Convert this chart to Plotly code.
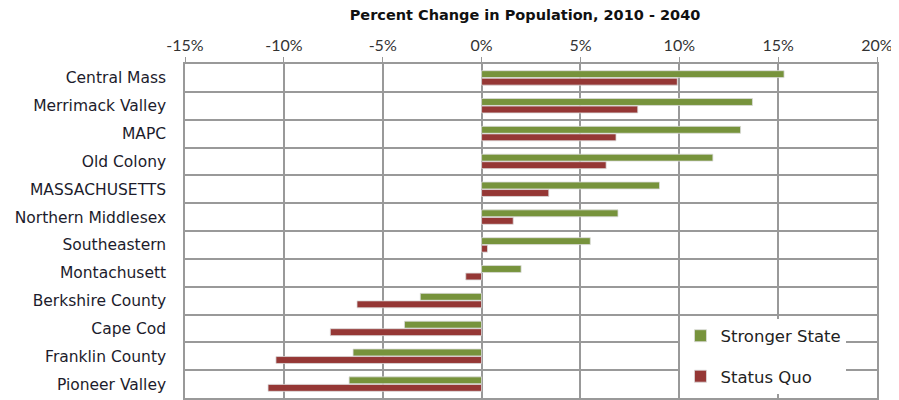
import plotly.graph_objects as go

regions = ["Central Mass", "Merrimack Valley", "MAPC", "Old Colony", "MASSACHUSETTS",
           "Northern Middlesex", "Southeastern", "Montachusett", "Berkshire County",
           "Cape Cod", "Franklin County", "Pioneer Valley"]
stronger_state = [15.3, 13.7, 13.1, 11.7, 9.0, 6.9, 5.5, 2.0, -3.1, -3.9, -6.5, -6.7]
status_quo = [9.9, 7.9, 6.8, 6.3, 3.4, 1.6, 0.3, -0.8, -6.3, -7.65, -10.4, -10.8]
x_ticks = [-15, -10, -5, 0, 5, 10, 15, 20]
x_tick_labels = ["-15%", "-10%", "-5%", "0%", "5%", "10%", "15%", "20%"]

pos = list(range(len(regions)))
FONT = "'DejaVu Sans', 'Noto Sans', sans-serif"
TICKFONT = "Lato, 'Noto Sans', sans-serif"

fig = go.Figure()
fig.add_trace(go.Bar(y=pos, x=[v / 100 for v in stronger_state], orientation="h",
                     name="Stronger State", marker=dict(color="#77933C", line=dict(color="#dcdcdc", width=0.8)),
                     legendgroup="a"))
fig.add_trace(go.Bar(y=pos, x=[v / 100 for v in status_quo], orientation="h",
                     name="Status Quo", marker=dict(color="#953735", line=dict(color="#dcdcdc", width=0.8)),
                     legendgroup="b"))

# page body has an 8px default margin; compensate so the plot lands where the reference has it
fig.update_layout(
    width=891, height=392,
    margin=dict(l=177, r=22, t=56, b=0),
    paper_bgcolor="white", plot_bgcolor="white",
    barmode="group", bargap=0.46, bargroupgap=0.08,
    font=dict(family=FONT, color="#222222"),
    title=dict(text="<b>Percent Change in Population, 2010 - 2040</b>",
               x=(525 - 8) / 891, xanchor="center", y=1 - 2 / 392, yanchor="top",
               font=dict(size=14.5, color="#111111", family=FONT)),
    xaxis=dict(side="top", range=[-0.15, 0.20], tickvals=[t / 100 for t in x_ticks],
               ticktext=x_tick_labels, showgrid=True, gridcolor="#999999", gridwidth=1.5,
               zeroline=False, showline=True, linecolor="#999999", linewidth=1.5, mirror=True,
               ticks="outside", ticklen=5, tickcolor="#999999",
               tickfont=dict(size=16, color="#333333", family=TICKFONT)),
    yaxis=dict(range=[len(regions) - 0.5, -0.5], tickvals=pos, ticktext=regions,
               showgrid=False, zeroline=False, showline=True, linecolor="#999999",
               linewidth=1.5, mirror=True, ticks="", ticklabelstandoff=14,
               tickfont=dict(size=15.5, color="#1c1c2c", family=FONT),
               minor=dict(tick0=0.5, dtick=1, showgrid=True, gridcolor="#999999", gridwidth=1.5)),
    legend=dict(x=0.716, xanchor="left", y=0.238, yanchor="top", bgcolor="white",
                font=dict(size=16.5, color="#222222", family=FONT), traceorder="grouped",
                tracegroupgap=16, itemwidth=30),
)

fig.write_html("out.html")
